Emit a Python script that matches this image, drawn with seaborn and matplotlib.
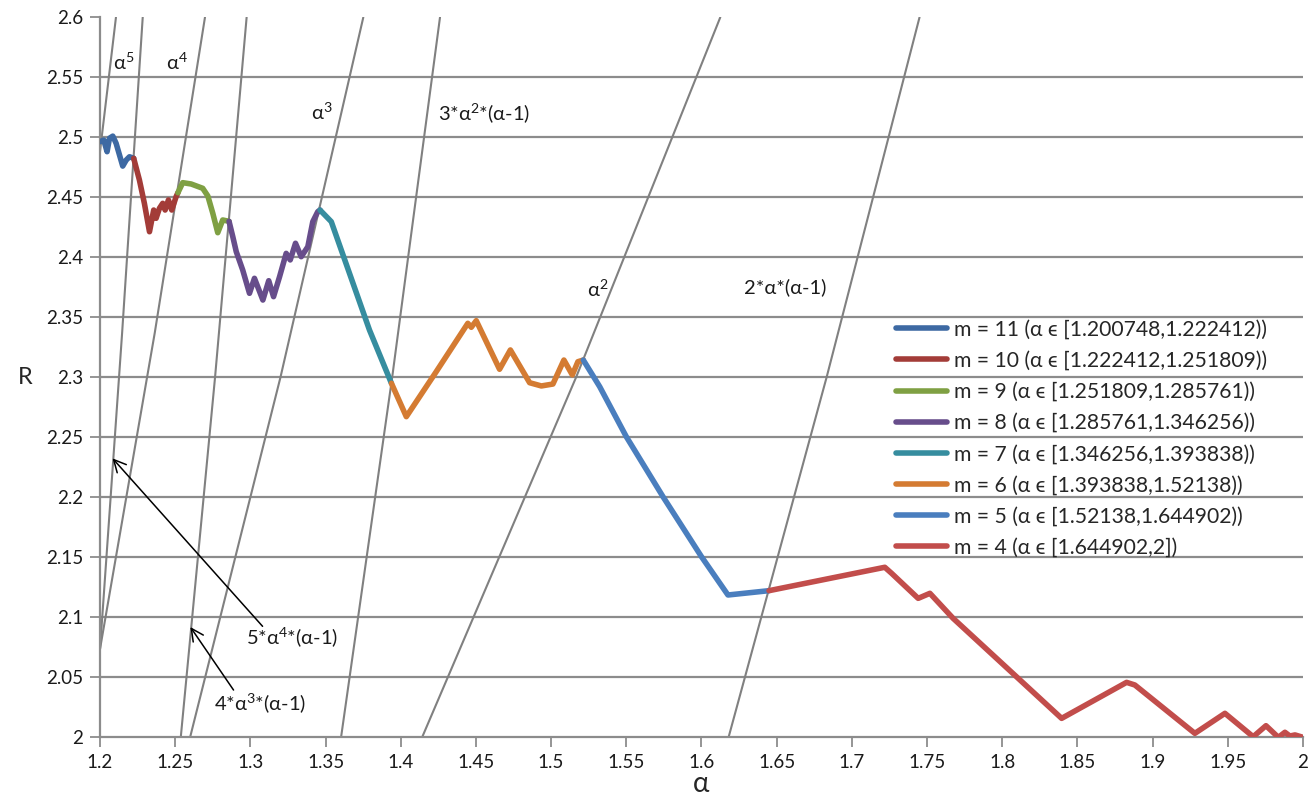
import matplotlib
matplotlib.use('Agg')
import matplotlib.pyplot as plt
import seaborn as sns
import pandas as pd

# R(alpha) pieces, one per m
m11_a = [1.2000, 1.2025, 1.2047, 1.2063, 1.2085, 1.2107, 1.2151, 1.2174, 1.2196, 1.2224]
m11_r = [2.4963, 2.4977, 2.4880, 2.4992, 2.5010, 2.4950, 2.4760, 2.4810, 2.4838, 2.4825]

m10_a = [1.2224, 1.2262, 1.2295, 1.2329, 1.2357, 1.2373, 1.2395, 1.2417, 1.2433, 1.2455, 1.2477, 1.2506, 1.2518]
m10_r = [2.4825, 2.4644, 2.4450, 2.4213, 2.4394, 2.4325, 2.4408, 2.4450, 2.4394, 2.4478, 2.4394, 2.4505, 2.4538]

m9_a = [1.2518, 1.2550, 1.2606, 1.2683, 1.2717, 1.2750, 1.2783, 1.2816, 1.2858]
m9_r = [2.4538, 2.4622, 2.4611, 2.4575, 2.4511, 2.4367, 2.4205, 2.4311, 2.4300]

m8_a = [1.2858, 1.2883, 1.2906, 1.2949, 1.2994, 1.3027, 1.3083, 1.3122, 1.3154, 1.3194,
        1.3238, 1.3265, 1.3300, 1.3338, 1.3382, 1.3415, 1.3448, 1.3463]
m8_r = [2.4300, 2.4172, 2.4047, 2.3894, 2.3700, 2.3825, 2.3644, 2.3805, 2.3672, 2.3838,
        2.4033, 2.3978, 2.4117, 2.4005, 2.4088, 2.4297, 2.4380, 2.4394]

m7_a = [1.3463, 1.3538, 1.3792, 1.3938]
m7_r = [2.4394, 2.4297, 2.3394, 2.2950]

m6_a = [1.3938, 1.4037, 1.4236, 1.4446, 1.4469, 1.4502, 1.4657, 1.4729, 1.4857, 1.4935,
        1.5012, 1.5085, 1.5141, 1.5178, 1.5214]
m6_r = [2.2950, 2.2672, 2.3047, 2.3450, 2.3417, 2.3472, 2.3067, 2.3228, 2.2955, 2.2928,
        2.2944, 2.3144, 2.3020, 2.3130, 2.3144]

m5_a = [1.5214, 1.5323, 1.5500, 1.5744, 1.6000, 1.6176, 1.6449]
m5_r = [2.3144, 2.2922, 2.2505, 2.2005, 2.1505, 2.1186, 2.1222]

m4_a = [1.6449, 1.7219, 1.7264, 1.7441, 1.7519, 1.7673, 1.8395, 1.8827, 1.8882, 1.9281,
        1.9481, 1.9669, 1.9754, 1.9836, 1.9880, 1.9913, 1.9947, 2.0000]
m4_r = [2.1222, 2.1417, 2.1367, 2.1158, 2.1200, 2.0992, 2.0158, 2.0458, 2.0436, 2.0033,
        2.0200, 2.0005, 2.0097, 2.0000, 2.0042, 2.0011, 2.0020, 2.0000]

labels = ['m = 11 (α ϵ [1.200748,1.222412))',
          'm = 10 (α ϵ [1.222412,1.251809))',
          'm = 9 (α ϵ [1.251809,1.285761))',
          'm = 8 (α ϵ [1.285761,1.346256))',
          'm = 7 (α ϵ [1.346256,1.393838))',
          'm = 6 (α ϵ [1.393838,1.52138))',
          'm = 5 (α ϵ [1.52138,1.644902))',
          'm = 4 (α ϵ [1.644902,2])']
colors = ['#3d69a3', '#a33c38', '#7fa043', '#674d8b', '#368d9f', '#d47b32', '#4a7ebe', '#c24d4b']

# bounding curves, points (start, middle, end)
curve_a = [[1.2000, 1.2053, 1.2106],   # a^5
           [1.2000, 1.2147, 1.2284],   # 5a^4(a-1)
           [1.2000, 1.2364, 1.2698],   # a^4
           [1.2537, 1.2765, 1.2975],   # 4a^3(a-1)
           [1.2599, 1.3200, 1.3751],   # a^3
           [1.3603, 1.3943, 1.4261],   # 3a^2(a-1)
           [1.4142, 1.5166, 1.6125],   # a^2
           [1.6180, 1.6832, 1.7450]]   # 2a(a-1)
curve_r = [[2.4883, 2.5440, 2.6],
           [2.0736, 2.3370, 2.6],
           [2.0736, 2.3370, 2.6],
           [2.0, 2.3, 2.6],
           [2.0, 2.3, 2.6],
           [2.0, 2.3, 2.6],
           [2.0, 2.3, 2.6],
           [2.0, 2.3, 2.6]]

pieces = [(m11_a, m11_r), (m10_a, m10_r), (m9_a, m9_r), (m8_a, m8_r),
          (m7_a, m7_r), (m6_a, m6_r), (m5_a, m5_r), (m4_a, m4_r)]
df = pd.concat([pd.DataFrame({'alpha': a, 'R': r, 'serie': lab})
                for (a, r), lab in zip(pieces, labels)], ignore_index=True)

sns.set_style('white')
fonts = ['Lato', 'Noto Sans', 'DejaVu Sans']
plt.rcParams['font.family'] = fonts

fig = plt.figure(figsize=(13.16, 8.01), dpi=100)
ax = fig.add_axes([0.0760, 0.0795, 0.9141, 0.8989])

grid_col = '#8c8c8c'
for y in [2.05 + 0.05 * i for i in range(11)]:
    ax.axhline(y, color=grid_col, lw=1.6, zorder=0)

for a, r in zip(curve_a, curve_r):
    ax.plot(a, r, color='#808080', lw=1.5, zorder=1)

sns.lineplot(data=df, x='alpha', y='R', hue='serie', hue_order=labels, palette=colors,
             sort=False, estimator=None, lw=4.0, ax=ax, zorder=3)
for ln in ax.get_lines():
    ln.set_solid_joinstyle('round')

ax.set_xlim(1.2, 2.0)
ax.set_ylim(2.0, 2.6)
ax.set_xticks([1.2 + 0.05 * i for i in range(17)])
ax.set_yticks([2.0 + 0.05 * i for i in range(13)])
ax.set_xticklabels([f'{round(1.2 + 0.05 * i, 2):g}' for i in range(17)])
ax.set_yticklabels([f'{round(2.0 + 0.05 * i, 2):g}' for i in range(13)])
ax.tick_params(axis='both', direction='out', length=7, width=1.3, color=grid_col,
               labelsize=13.5, labelcolor='#1a1a1a', pad=5, left=True, bottom=True)
for s in ['top', 'right']:
    ax.spines[s].set_visible(False)
for s in ['left', 'bottom']:
    ax.spines[s].set_color(grid_col)
    ax.spines[s].set_linewidth(1.6)

ax.set_xlabel('α', fontsize=20, labelpad=0)
ax.set_ylabel('R', fontsize=17, rotation=0, va='center')
ax.yaxis.set_label_coords(-0.062, 0.50)

# curve names
sup = {n: r'$\mathregular{^{' + n + '}}$' for n in '2345'}
tk = dict(fontsize=14.5, color='#1a1a1a', ha='center', va='center')
ax.text(1.2156, 2.563, 'α' + sup['5'], **tk)
ax.text(1.2510, 2.563, 'α' + sup['4'], **tk)
ax.text(1.3474, 2.521, 'α' + sup['3'], **tk)
ax.text(1.4553, 2.520, '3*α' + sup['2'] + '*(α-1)', **tk)
ax.text(1.5310, 2.3735, 'α' + sup['2'], **tk)
ax.text(1.6554, 2.375, '2*α*(α-1)', **tk)
ax.text(1.3275, 2.0836, '5*α' + sup['4'] + '*(α-1)', **tk)
ax.text(1.3062, 2.0286, '4*α' + sup['3'] + '*(α-1)', **tk)

arr = dict(arrowstyle='->', color='black', lw=1.1, mutation_scale=22, shrinkA=0, shrinkB=0)
ax.annotate('', xy=(1.2083, 2.2325), xytext=(1.3081, 2.0925), arrowprops=arr)
ax.annotate('', xy=(1.2601, 2.0919), xytext=(1.2888, 2.0394), arrowprops=arr)

leg = ax.legend(loc='upper left', bbox_to_anchor=(0.655, 0.592), frameon=False,
                fontsize=15.2, handlelength=2.4, labelspacing=0.53, handletextpad=0.35,
                borderaxespad=0)
for h in leg.get_lines():
    h.set_linewidth(4)

fig.savefig('out.png', dpi=100, facecolor='white')
